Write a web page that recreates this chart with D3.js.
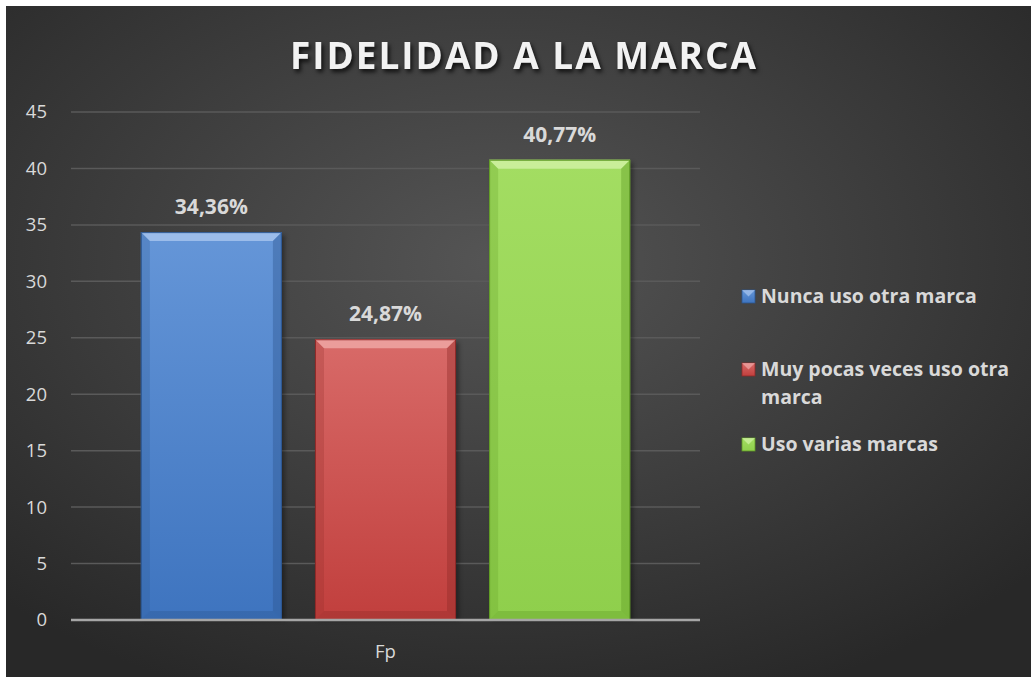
<!DOCTYPE html>
<html>
<head>
<meta charset="utf-8">
<script src="https://cdn.jsdelivr.net/npm/d3@7"></script>
<style>
  html, body { margin: 0; padding: 0; background: #fff; }
  svg { display: block; }
  text { font-family: "Open Sans", "Noto Sans", sans-serif; }
</style>
</head>
<body>
<svg id="chart" width="1031" height="677"></svg>
<script>
// data
const categories = ["Fp"];
const series = ["Nunca uso otra marca", "Muy pocas veces uso otra marca", "Uso varias marcas"];
const values = [34.36, 24.87, 40.77];
const valueLabels = ["34,36%", "24,87%", "40,77%"];
const yTicks = [0, 5, 10, 15, 20, 25, 30, 35, 40, 45];
const colors = [
  { top: "#6596d8", bottom: "#3e74bf", light: "#a9c6ef", dark: "#2c568f" },
  { top: "#d86a68", bottom: "#c13f3d", light: "#f0aaa8", dark: "#8e2a29" },
  { top: "#a3dd62", bottom: "#8fcf4c", light: "#d3f3a8", dark: "#5f9a25" }
];

const svg = d3.select("#chart");
const W = 1031, H = 677;
const margin = { left: 71, right: 331, top: 112, bottom: 57 };
const defs = svg.append("defs");

// background: dark radial gradient
const bg = defs.append("radialGradient").attr("id", "bg")
  .attr("cx", "48%").attr("cy", "38%").attr("r", "70%");
bg.append("stop").attr("offset", "0%").attr("stop-color", "#555555");
bg.append("stop").attr("offset", "100%").attr("stop-color", "#282828");
svg.append("rect").attr("x", 6).attr("y", 6).attr("width", W - 6).attr("height", H - 6)
  .attr("fill", "url(#bg)");

const x0 = d3.scaleBand().domain(categories).range([margin.left, W - margin.right]);
const g = x0.bandwidth() * 0.111;
const x1 = d3.scaleBand().domain(series).range([g, x0.bandwidth() - g]).paddingInner(0.19);
const y = d3.scaleLinear().domain([0, 45]).range([H - margin.bottom, margin.top]);

// title
svg.append("text")
  .attr("x", 523).attr("y", 69)
  .attr("text-anchor", "middle")
  .attr("font-size", 37).attr("font-weight", 700)
  .attr("fill", "#f2f2f2")
  .attr("textLength", 466).attr("lengthAdjust", "spacing")
  .style("filter", "drop-shadow(2px 3px 2px rgba(0,0,0,0.75))")
  .text("FIDELIDAD A LA MARCA");

// grid lines
svg.append("g")
  .selectAll("line").data(yTicks.filter(d => d > 0)).join("line")
  .attr("x1", margin.left).attr("x2", W - margin.right)
  .attr("y1", d => y(d)).attr("y2", d => y(d))
  .attr("stroke", "#5a5a5a").attr("stroke-width", 1.5);

// y axis
const yAxis = svg.append("g")
  .attr("transform", `translate(${margin.left - 24},0)`)
  .call(d3.axisLeft(y).tickValues(yTicks).tickSize(0).tickPadding(0));
yAxis.select(".domain").remove();
yAxis.selectAll("text")
  .attr("font-size", 18.5).attr("fill", "#d9d9d9")
  .style("font-family", "'Open Sans', sans-serif");

// bar gradients
colors.forEach((c, i) => {
  const lg = defs.append("linearGradient").attr("id", "bar" + i)
    .attr("x1", 0).attr("y1", 0).attr("x2", 0).attr("y2", 1);
  lg.append("stop").attr("offset", "0%").attr("stop-color", c.top);
  lg.append("stop").attr("offset", "100%").attr("stop-color", c.bottom);
});

// bars with a bevel
const bev = 9;
const bars = svg.append("g").selectAll("g")
  .data(series.map((s, i) => ({ s, v: values[i], i })))
  .join("g")
  .attr("transform", d => `translate(${x0(categories[0]) + x1(d.s)},0)`);

bars.append("rect")
  .attr("x", 3).attr("y", d => y(d.v) + 3)
  .attr("width", x1.bandwidth()).attr("height", d => y(0) - y(d.v) - 3)
  .attr("fill", "rgba(0,0,0,0.35)")
  .style("filter", "blur(2px)");

bars.append("rect")
  .attr("x", 0).attr("y", d => y(d.v))
  .attr("width", x1.bandwidth()).attr("height", d => y(0) - y(d.v))
  .attr("fill", d => `url(#bar${d.i})`);

const bw = x1.bandwidth();
// top bevel
bars.append("path")
  .attr("d", d => {
    const t = y(d.v);
    return `M0,${t}L${bw},${t}L${bw - bev},${t + bev}L${bev},${t + bev}Z`;
  })
  .attr("fill", d => colors[d.i].light).attr("opacity", 0.8);
// left bevel
bars.append("path")
  .attr("d", d => {
    const t = y(d.v), b = y(0);
    return `M0,${t}L${bev},${t + bev}L${bev},${b - bev}L0,${b}Z`;
  })
  .attr("fill", d => colors[d.i].dark).attr("opacity", 0.25);
// right bevel
bars.append("path")
  .attr("d", d => {
    const t = y(d.v), b = y(0);
    return `M${bw},${t}L${bw - bev},${t + bev}L${bw - bev},${b - bev}L${bw},${b}Z`;
  })
  .attr("fill", d => colors[d.i].dark).attr("opacity", 0.4);
// bottom bevel
bars.append("path")
  .attr("d", d => {
    const b = y(0);
    return `M0,${b}L${bev},${b - bev}L${bw - bev},${b - bev}L${bw},${b}Z`;
  })
  .attr("fill", d => colors[d.i].dark).attr("opacity", 0.35);
bars.append("rect")
  .attr("x", 0.5).attr("y", d => y(d.v) + 0.5)
  .attr("width", bw - 1).attr("height", d => y(0) - y(d.v) - 1)
  .attr("fill", "none").attr("stroke", d => colors[d.i].dark).attr("stroke-width", 1);

// value labels
bars.append("text")
  .attr("x", bw / 2).attr("y", d => y(d.v) - 18)
  .attr("text-anchor", "middle")
  .attr("font-size", 21).attr("font-weight", 700)
  .attr("fill", "#d9d9d9")
  .text(d => valueLabels[d.i]);

// x axis line
svg.append("line")
  .attr("x1", margin.left).attr("x2", W - margin.right)
  .attr("y1", y(0)).attr("y2", y(0))
  .attr("stroke", "#a6a6a6").attr("stroke-width", 2.5);

// category label
svg.append("g").selectAll("text").data(categories).join("text")
  .attr("x", d => x0(d) + x0.bandwidth() / 2).attr("y", y(0) + 38)
  .attr("text-anchor", "middle")
  .attr("font-size", 18.5).attr("fill", "#d9d9d9")
  .text(d => d);

// legend
const legendX = 742;
const legendRows = [296, 369, 444];
const legend = svg.append("g").selectAll("g")
  .data(series.map((s, i) => ({ s, i })))
  .join("g")
  .attr("transform", d => `translate(${legendX},${legendRows[d.i]})`);

legend.append("rect")
  .attr("x", 0).attr("y", -6).attr("width", 13).attr("height", 13)
  .attr("fill", d => `url(#bar${d.i})`)
  .attr("stroke", d => colors[d.i].dark).attr("stroke-width", 0.8);
legend.append("path")
  .attr("d", "M0,-6L13,-6L6.5,0.5Z")
  .attr("fill", d => colors[d.i].light).attr("opacity", 0.7);

legend.append("text")
  .attr("x", 19).attr("y", 7)
  .attr("font-size", 19.5).attr("font-weight", 700)
  .attr("fill", "#d9d9d9")
  .each(function (d) {
    const el = d3.select(this);
    const words = d.s.split(" ");
    let line = [];
    let tspan = el.append("tspan").attr("x", 19).attr("dy", 0);
    words.forEach(w => {
      line.push(w);
      tspan.text(line.join(" "));
      if (tspan.node().getComputedTextLength() > 262 && line.length > 1) {
        line.pop();
        tspan.text(line.join(" "));
        line = [w];
        tspan = el.append("tspan").attr("x", 19).attr("dy", 28).text(w);
      }
    });
  });
</script>
</body>
</html>
